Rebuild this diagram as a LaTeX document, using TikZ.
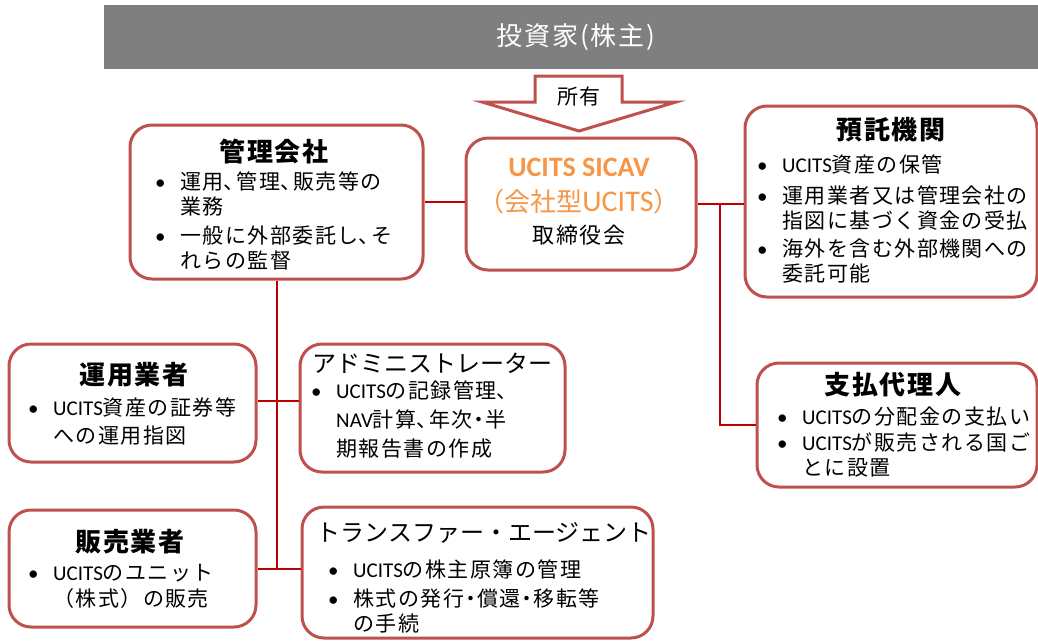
\documentclass[tikz,border=0pt]{standalone}
\usepackage{fontspec}
\setmainfont{Noto Sans CJK JP}[LetterSpace=7]
\newfontfamily\jpn{Noto Sans CJK JP}
\newfontfamily\lat{Carlito}
\newcommand\uc[1]{{\lat #1}}
\newcommand\bul{\makebox[25pt][l]{\lat •}}
\newcommand\ten{\makebox[13pt][l]{、}}
\newcommand\nak{\makebox[13pt][c]{\hspace*{-5pt}・\hspace*{-5pt}}}
\definecolor{boxred}{HTML}{C0504D}
\definecolor{linered}{HTML}{C00000}
\definecolor{sicavorange}{HTML}{F79646}
\definecolor{bannergray}{HTML}{7F7F7F}
\tikzset{
  box/.style={draw=boxred, line width=3pt, rounded corners=22pt, fill=white, inner sep=0pt},
  conn/.style={draw=linered, line width=2pt},
  ttl/.style={inner sep=0pt, font=\fontsize{26}{30}\selectfont\bfseries},
  ttlk/.style={inner sep=0pt, font=\jpn\fontsize{24}{28}\selectfont},
  lst/.style={inner sep=0pt, anchor=base west, font=\fontsize{21}{24}\selectfont},
}
\begin{document}
\begin{tikzpicture}[x=1pt,y=-1pt]
\useasboundingbox (0,0) rectangle (1038,641);
% banner
\node[fill=bannergray, minimum width=934pt, minimum height=64pt, inner sep=0pt] (inv) at (571,37) {};
\node[text=white, inner sep=0pt, font=\fontsize{26}{30}\selectfont] (invt) at (576,37) {投資家(株主)};
% arrow
\draw[draw=boxred, line width=3pt, fill=white, line join=miter]
  (535,76) -- (622,76) -- (622,102) -- (676,102) -- (579,131) -- (482,102) -- (535,102) -- cycle;
\node[inner sep=0pt, font=\fontsize{21}{24}\selectfont] (own) at (579,97) {所有};

% boxes
\node[box, minimum width=293pt, minimum height=154pt] (kanri) at (276.5,202) {};
\node[box, minimum width=230pt, minimum height=132pt] (sicav) at (581,204) {};
\node[box, minimum width=292pt, minimum height=191pt] (yotaku) at (891,201.5) {};
\node[box, minimum width=280pt, minimum height=124pt] (shiharai) at (897,425) {};
\node[box, minimum width=247pt, minimum height=118pt] (unyo) at (132.5,403) {};
\node[box, minimum width=265pt, minimum height=128pt] (admin) at (432.5,408) {};
\node[box, minimum width=247pt, minimum height=117pt] (hanbai) at (132.5,568.5) {};
\node[box, minimum width=351pt, minimum height=131pt] (transfer) at (477.5,572.5) {};

% connectors
\coordinate (j1) at (720,204);
\coordinate (j2) at (276.5,401);
\draw[conn] (kanri.east) -- (kanri.east -| sicav.west);
\draw[conn] (sicav.east) -- (sicav.east -| yotaku.west);
\draw[conn] (j1) |- (shiharai.west);
\draw[conn] (kanri.south) -- (kanri.south |- hanbai.east);
\draw[conn] (unyo.east |- j2) -- (admin.west |- j2);
\draw[conn] (hanbai.east) -- (transfer.west |- hanbai.east);

% SICAV text
\node[inner sep=0pt, text=sicavorange, font=\lat\bfseries\fontsize{28}{32}\selectfont] (s1) at (579,167) {UCITS SICAV};
\node[inner sep=0pt, text=sicavorange, font=\jpn\fontsize{26}{30}\selectfont] (s2) at (579,202) {（会社型{\lat\fontsize{30}{32}\selectfont UCITS}）};
\node[inner sep=0pt, font=\fontsize{22}{26}\selectfont] (s3) at (579,235) {取締役会};

% titles
\node[ttl] (t1) at (274,152) {管理会社};
\node[ttl] (t2) at (891,130) {預託機関};
\node[ttl] (t3) at (893,385) {支払代理人};
\node[ttl] (t4) at (134,375) {運用業者};
\node[ttl] (t5) at (130,542) {販売業者};
\node[ttlk] (t6) at (432,363) {アドミニストレーター};
\node[ttlk] (t7) at (484,533) {トランスファー・エージェント};

% lists
\node[lst] (l1) at (155,189.6) {\begin{tabular}[t]{@{}l@{}l@{}}
\bul & 運用\ten 管理\ten 販売等の \\
 & 業務 \\[4pt]
\bul & 一般に外部委託し\ten そ \\
 & れらの監督
\end{tabular}};
\node[lst] (l2) at (757,172.6) {\begin{tabular}[t]{@{}l@{}l@{}}
\bul & \uc{UCITS}資産の保管 \\[6pt]
\bul & 運用業者又は管理会社の \\
 & 指図に基づく資金の受払 \\[3pt]
\bul & 海外を含む外部機関への \\
 & 委託可能
\end{tabular}};
\node[lst] (l3) at (777,424.6) {\begin{tabular}[t]{@{}l@{}l@{}}
\bul & \uc{UCITS}の分配金の支払い \\[1pt]
\bul & \uc{UCITS}が販売される国ご \\[1pt]
 & とに設置
\end{tabular}};
\node[lst] (l4) at (28,415.6) {\begin{tabular}[t]{@{}l@{}l@{}}
\bul & \uc{UCITS}資産の証券等 \\[3pt]
 & への運用指図
\end{tabular}};
\node[lst] (l5) at (311,398.6) {\begin{tabular}[t]{@{}l@{}l@{}}
\bul & \uc{UCITS}の記録管理\ten \\[4pt]
 & \uc{NAV}計算\ten 年次\nak 半 \\[4pt]
 & 期報告書の作成
\end{tabular}};
\node[lst] (l6) at (28,580.6) {\begin{tabular}[t]{@{}l@{}l@{}}
\bul & \uc{UCITS}のユニット \\[1pt]
 & （株式）の販売
\end{tabular}};
\node[lst] (l7) at (328,577.6) {\begin{tabular}[t]{@{}l@{}l@{}}
\bul & \uc{UCITS}の株主原簿の管理 \\[4pt]
\bul & 株式の発行\nak 償還\nak 移転等 \\
 & の手続
\end{tabular}};
\end{tikzpicture}
\end{document}
